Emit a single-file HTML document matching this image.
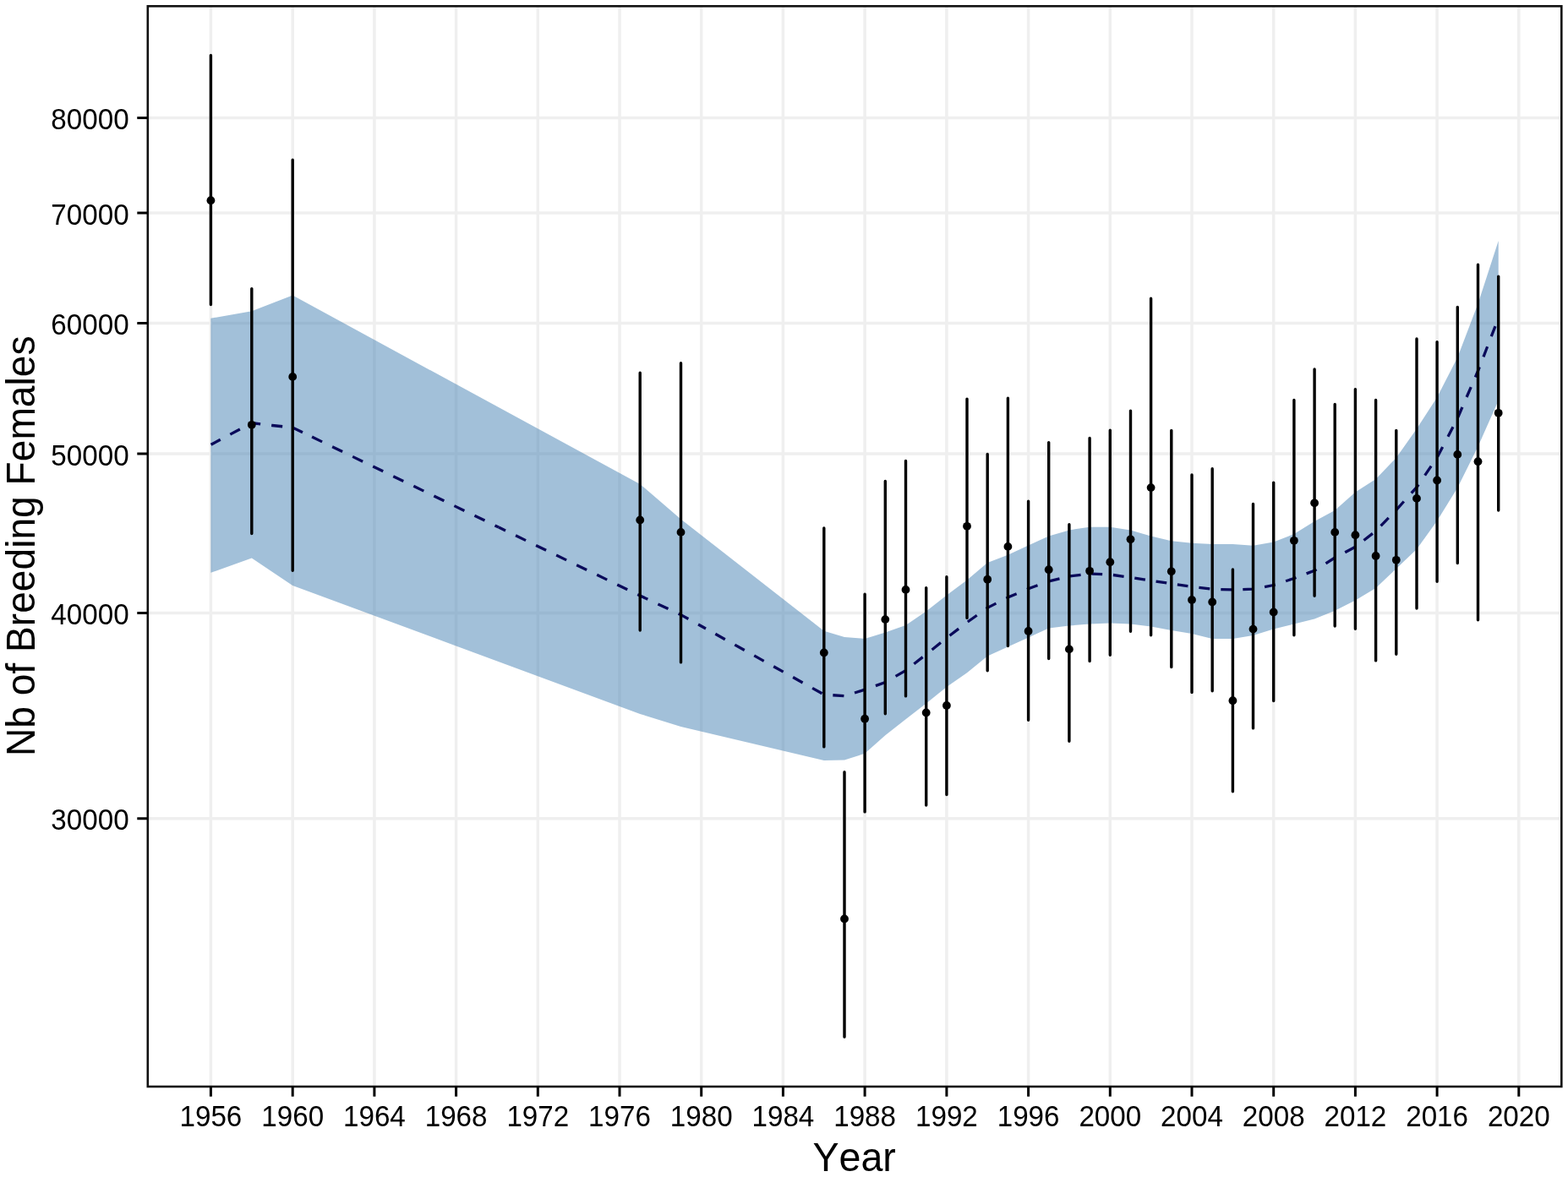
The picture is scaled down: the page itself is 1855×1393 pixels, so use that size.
<!DOCTYPE html><html><head><meta charset="utf-8"><style>html,body{margin:0;padding:0;background:#fff;}svg{display:block;}</style></head><body>
<svg width="1855" height="1393" viewBox="0 0 1855 1393">
<rect x="0" y="0" width="1855" height="1393" fill="#fff"/>
<path d="M249.4 7.3V1286.0M346.2 7.3V1286.0M442.9 7.3V1286.0M539.6 7.3V1286.0M636.3 7.3V1286.0M733.0 7.3V1286.0M829.7 7.3V1286.0M926.4 7.3V1286.0M1023.1 7.3V1286.0M1119.9 7.3V1286.0M1216.6 7.3V1286.0M1313.3 7.3V1286.0M1410.0 7.3V1286.0M1506.7 7.3V1286.0M1603.4 7.3V1286.0M1700.1 7.3V1286.0M1796.8 7.3V1286.0M174.8 139.4H1847.3M174.8 252.1H1847.3M174.8 382.5H1847.3M174.8 536.9H1847.3M174.8 725.6H1847.3M174.8 968.7H1847.3" stroke="#EFEFEF" stroke-width="3.5" fill="none"/>
<polygon points="249.4,376.7 297.8,368.3 346.2,349.6 757.2,573.0 805.5,614.5 974.8,746.7 999.0,753.9 1023.1,755.9 1047.3,748.5 1071.5,740.0 1095.7,723.5 1119.9,704.5 1144.0,686.5 1168.2,666.0 1192.4,656.7 1216.6,645.5 1240.7,634.4 1264.9,627.4 1289.1,623.7 1313.3,623.7 1337.5,627.4 1361.6,634.6 1385.8,640.3 1410.0,642.7 1434.2,644.0 1458.4,644.0 1482.5,645.8 1506.7,641.5 1530.9,632.0 1555.1,617.0 1579.2,604.0 1603.4,582.6 1627.6,567.0 1651.8,541.7 1676.0,507.5 1700.1,470.2 1724.3,423.0 1748.5,359.5 1772.7,285.0 1772.7,474.0 1748.5,528.4 1724.3,577.3 1700.1,616.5 1676.0,650.0 1651.8,673.0 1627.6,696.0 1603.4,710.5 1579.2,722.7 1555.1,732.4 1530.9,738.5 1506.7,744.6 1482.5,752.0 1458.4,756.0 1434.2,756.0 1410.0,750.0 1385.8,746.0 1361.6,741.4 1337.5,738.5 1313.3,737.6 1289.1,738.5 1264.9,740.5 1240.7,743.6 1216.6,754.5 1192.4,765.5 1168.2,776.5 1144.0,796.3 1119.9,813.0 1095.7,832.4 1071.5,851.2 1047.3,870.2 1023.1,891.8 999.0,899.5 974.8,900.0 805.5,860.0 757.2,845.0 346.2,693.0 297.8,660.5 249.4,677.8" fill="#4682B4" fill-opacity="0.5"/>
<polyline points="249.6,526.2 297.8,500.5 322.0,503.5 346.2,506.0 358.0,511.7" fill="none" stroke="#0a0a5a" stroke-width="3.3" stroke-dasharray="13.10 13.10" stroke-dashoffset="0.46"/>
<polyline points="358.0,511.7 590.0,624.1" fill="none" stroke="#0a0a5a" stroke-width="3.3" stroke-dasharray="13.36 13.36" stroke-dashoffset="14.42"/>
<polyline points="590.0,624.1 757.2,705.0 805.5,727.6 835.0,744.0" fill="none" stroke="#0a0a5a" stroke-width="3.3" stroke-dasharray="13.35 13.35" stroke-dashoffset="4.43"/>
<polyline points="835.0,744.0 974.8,822.0 999.0,823.7 1023.1,816.2 1047.3,807.5 1071.5,793.5 1095.0,775.0" fill="none" stroke="#0a0a5a" stroke-width="3.3" stroke-dasharray="13.14 13.14" stroke-dashoffset="13.32"/>
<polyline points="1095.0,775.0 1095.7,774.5 1119.9,755.0 1144.0,736.6 1168.2,719.3 1192.4,707.1 1216.6,696.8 1230.0,691.9" fill="none" stroke="#0a0a5a" stroke-width="3.3" stroke-dasharray="13.40 13.40" stroke-dashoffset="17.15"/>
<polyline points="1230.0,691.9 1240.7,688.0 1264.9,682.0 1289.1,679.1 1313.3,680.0 1337.5,683.4 1361.6,687.2 1385.8,690.8 1405.0,693.7" fill="none" stroke="#0a0a5a" stroke-width="3.3" stroke-dasharray="12.80 12.80" stroke-dashoffset="13.84"/>
<polyline points="1405.0,693.7 1410.0,694.4 1434.2,697.3 1458.4,698.0 1482.5,697.2 1506.7,692.5 1530.9,684.5 1555.1,675.3 1579.2,660.0 1580.0,659.6" fill="none" stroke="#0a0a5a" stroke-width="3.3" stroke-dasharray="13.01 13.01" stroke-dashoffset="12.52"/>
<polyline points="1580.0,659.6 1603.4,647.3 1627.6,628.5 1651.8,603.5 1676.0,576.7 1700.1,541.5 1708.0,526.4" fill="none" stroke="#0a0a5a" stroke-width="3.3" stroke-dasharray="13.24 13.24" stroke-dashoffset="13.81"/>
<polyline points="1708.0,526.4 1724.3,495.0 1748.5,439.0 1772.6,376.7" fill="none" stroke="#0a0a5a" stroke-width="3.3" stroke-dasharray="12.93 12.93" stroke-dashoffset="14.99"/>
<path d="M249.4 65.5V360.6M297.8 341.6V631.5M346.2 189.3V675.2M757.2 441.3V746.0M805.5 429.8V783.9M974.8 625.0V883.9M999.0 913.7V1227.2M1023.1 703.2V960.9M1047.3 569.5V844.7M1071.5 545.4V823.9M1095.7 695.6V953.1M1119.9 682.8V940.5M1144.0 472.1V731.4M1168.2 537.4V793.8M1192.4 471.3V764.5M1216.6 593.3V852.3M1240.7 523.6V779.6M1264.9 620.8V877.3M1289.1 518.5V782.5M1313.3 509.3V775.3M1337.5 486.3V747.2M1361.6 353.2V751.8M1385.8 509.4V789.5M1410.0 561.9V819.5M1434.2 554.7V817.7M1458.4 674.0V936.8M1482.5 596.4V861.9M1506.7 571.1V829.6M1530.9 473.4V751.7M1555.1 436.9V705.3M1579.2 478.5V741.1M1603.4 460.6V744.2M1627.6 473.5V781.9M1651.8 509.4V774.3M1676.0 400.9V720.0M1700.1 404.6V688.2M1724.3 363.5V666.5M1748.5 313.3V733.8M1772.7 327.1V604.1" stroke="#000" stroke-width="3.4" stroke-linecap="round" fill="none"/>
<circle cx="249.4" cy="237.2" r="4.9" fill="#000"/>
<circle cx="297.8" cy="502.8" r="4.9" fill="#000"/>
<circle cx="346.2" cy="445.9" r="4.9" fill="#000"/>
<circle cx="757.2" cy="615.5" r="4.9" fill="#000"/>
<circle cx="805.5" cy="629.9" r="4.9" fill="#000"/>
<circle cx="974.8" cy="772.5" r="4.9" fill="#000"/>
<circle cx="999.0" cy="1087.5" r="4.9" fill="#000"/>
<circle cx="1023.1" cy="850.7" r="4.9" fill="#000"/>
<circle cx="1047.3" cy="733.1" r="4.9" fill="#000"/>
<circle cx="1071.5" cy="697.9" r="4.9" fill="#000"/>
<circle cx="1095.7" cy="843.5" r="4.9" fill="#000"/>
<circle cx="1119.9" cy="835.0" r="4.9" fill="#000"/>
<circle cx="1144.0" cy="622.8" r="4.9" fill="#000"/>
<circle cx="1168.2" cy="685.7" r="4.9" fill="#000"/>
<circle cx="1192.4" cy="646.9" r="4.9" fill="#000"/>
<circle cx="1216.6" cy="747.0" r="4.9" fill="#000"/>
<circle cx="1240.7" cy="674.2" r="4.9" fill="#000"/>
<circle cx="1264.9" cy="768.4" r="4.9" fill="#000"/>
<circle cx="1289.1" cy="675.8" r="4.9" fill="#000"/>
<circle cx="1313.3" cy="665.2" r="4.9" fill="#000"/>
<circle cx="1337.5" cy="638.3" r="4.9" fill="#000"/>
<circle cx="1361.6" cy="577.1" r="4.9" fill="#000"/>
<circle cx="1385.8" cy="676.3" r="4.9" fill="#000"/>
<circle cx="1410.0" cy="710.0" r="4.9" fill="#000"/>
<circle cx="1434.2" cy="712.5" r="4.9" fill="#000"/>
<circle cx="1458.4" cy="829.2" r="4.9" fill="#000"/>
<circle cx="1482.5" cy="744.6" r="4.9" fill="#000"/>
<circle cx="1506.7" cy="724.5" r="4.9" fill="#000"/>
<circle cx="1530.9" cy="639.8" r="4.9" fill="#000"/>
<circle cx="1555.1" cy="595.3" r="4.9" fill="#000"/>
<circle cx="1579.2" cy="629.9" r="4.9" fill="#000"/>
<circle cx="1603.4" cy="633.2" r="4.9" fill="#000"/>
<circle cx="1627.6" cy="658.0" r="4.9" fill="#000"/>
<circle cx="1651.8" cy="662.8" r="4.9" fill="#000"/>
<circle cx="1676.0" cy="589.9" r="4.9" fill="#000"/>
<circle cx="1700.1" cy="568.5" r="4.9" fill="#000"/>
<circle cx="1724.3" cy="537.9" r="4.9" fill="#000"/>
<circle cx="1748.5" cy="546.2" r="4.9" fill="#000"/>
<circle cx="1772.7" cy="488.8" r="4.9" fill="#000"/>
<rect x="174.8" y="7.3" width="1672.5" height="1278.7" fill="none" stroke="#111" stroke-width="2.6"/>
<path d="M249.4 1286.0V1297.8M346.2 1286.0V1297.8M442.9 1286.0V1297.8M539.6 1286.0V1297.8M636.3 1286.0V1297.8M733.0 1286.0V1297.8M829.7 1286.0V1297.8M926.4 1286.0V1297.8M1023.1 1286.0V1297.8M1119.9 1286.0V1297.8M1216.6 1286.0V1297.8M1313.3 1286.0V1297.8M1410.0 1286.0V1297.8M1506.7 1286.0V1297.8M1603.4 1286.0V1297.8M1700.1 1286.0V1297.8M1796.8 1286.0V1297.8M174.8 139.4H162.3M174.8 252.1H162.3M174.8 382.5H162.3M174.8 536.9H162.3M174.8 725.6H162.3M174.8 968.7H162.3" stroke="#000" stroke-width="3.0" fill="none"/>
<g font-family="Liberation Sans, Arial, sans-serif" font-size="33.2" fill="#000" style="font-kerning:none">
<text transform="translate(152.6 153.0) scale(1 1.035)" text-anchor="end">80000</text>
<text transform="translate(152.6 265.7) scale(1 1.035)" text-anchor="end">70000</text>
<text transform="translate(152.6 396.1) scale(1 1.035)" text-anchor="end">60000</text>
<text transform="translate(152.6 550.5) scale(1 1.035)" text-anchor="end">50000</text>
<text transform="translate(152.6 739.2) scale(1 1.035)" text-anchor="end">40000</text>
<text transform="translate(152.6 982.3) scale(1 1.035)" text-anchor="end">30000</text>
<text transform="translate(249.4 1332.8) scale(1 1.035)" text-anchor="middle">1956</text>
<text transform="translate(346.2 1332.8) scale(1 1.035)" text-anchor="middle">1960</text>
<text transform="translate(442.9 1332.8) scale(1 1.035)" text-anchor="middle">1964</text>
<text transform="translate(539.6 1332.8) scale(1 1.035)" text-anchor="middle">1968</text>
<text transform="translate(636.3 1332.8) scale(1 1.035)" text-anchor="middle">1972</text>
<text transform="translate(733.0 1332.8) scale(1 1.035)" text-anchor="middle">1976</text>
<text transform="translate(829.7 1332.8) scale(1 1.035)" text-anchor="middle">1980</text>
<text transform="translate(926.4 1332.8) scale(1 1.035)" text-anchor="middle">1984</text>
<text transform="translate(1023.1 1332.8) scale(1 1.035)" text-anchor="middle">1988</text>
<text transform="translate(1119.9 1332.8) scale(1 1.035)" text-anchor="middle">1992</text>
<text transform="translate(1216.6 1332.8) scale(1 1.035)" text-anchor="middle">1996</text>
<text transform="translate(1313.3 1332.8) scale(1 1.035)" text-anchor="middle">2000</text>
<text transform="translate(1410.0 1332.8) scale(1 1.035)" text-anchor="middle">2004</text>
<text transform="translate(1506.7 1332.8) scale(1 1.035)" text-anchor="middle">2008</text>
<text transform="translate(1603.4 1332.8) scale(1 1.035)" text-anchor="middle">2012</text>
<text transform="translate(1700.1 1332.8) scale(1 1.035)" text-anchor="middle">2016</text>
<text transform="translate(1796.8 1332.8) scale(1 1.035)" text-anchor="middle">2020</text>
</g>
<g font-family="Liberation Sans, Arial, sans-serif" font-size="46.6" fill="#000" style="font-kerning:none">
<text transform="translate(1010.6 1385.6) scale(1 1.04)" text-anchor="middle">Year</text>
<text transform="translate(41.0 646.3) rotate(-90) scale(1 1.04)" text-anchor="middle" font-size="46.15">Nb of Breeding Females</text>
</g>
</svg></body></html>
